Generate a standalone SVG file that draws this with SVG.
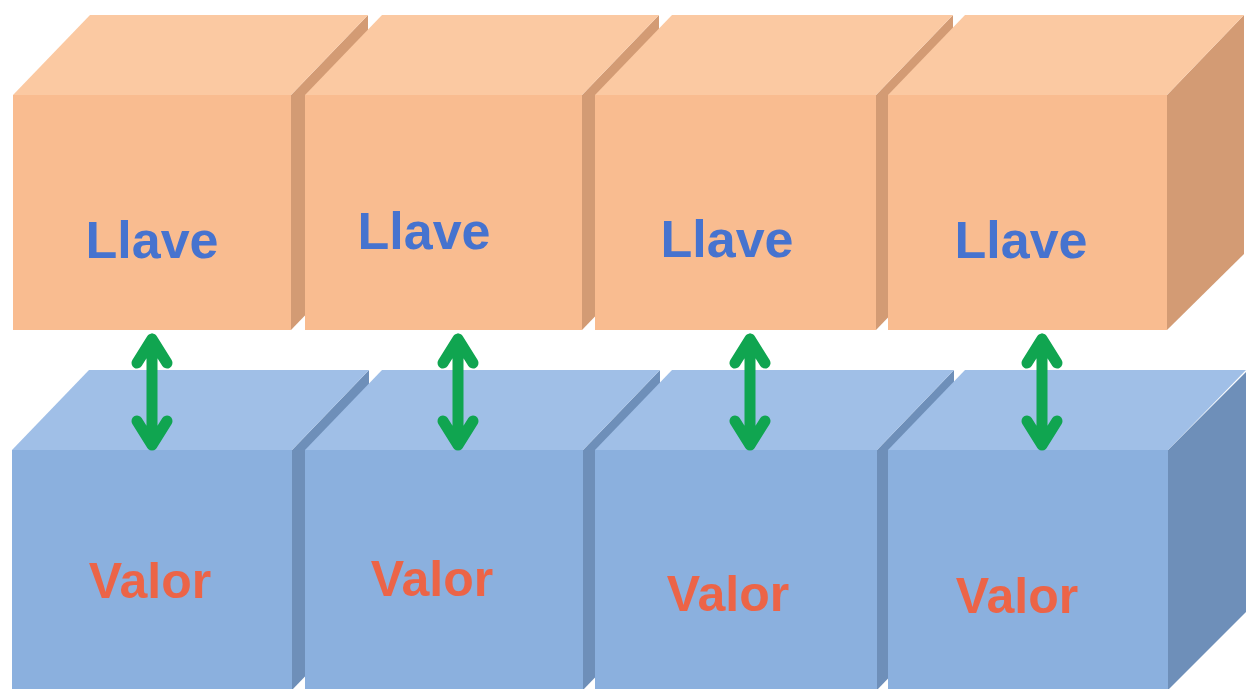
<svg xmlns="http://www.w3.org/2000/svg" width="1246" height="689" viewBox="0 0 1246 689">
<style>
.kt{fill:#fbc9a2}.kf{fill:#f9bc90}.ks{fill:#d39b74}
.vt{fill:#a0bfe7}.vf{fill:#8bb0de}.vs{fill:#6e8fb9}
.lk{font-family:"Liberation Sans",Arial,sans-serif;font-weight:bold;font-size:52px;fill:#4673cf;text-anchor:middle}
.lv{font-family:"Liberation Sans",Arial,sans-serif;font-weight:bold;font-size:50px;fill:#ec6447;text-anchor:middle}
.arr{fill:none;stroke:#10a550;stroke-width:11;stroke-linecap:round;stroke-linejoin:round}
</style>
<rect width="1246" height="689" fill="#ffffff"/>
<g id="llave1">
<polygon class="ks" points="291,95 368,15 368,250 291,330"/>
<polygon class="kt" points="13,95 90,15 368,15 291,95"/>
<rect class="kf" x="13" y="95" width="278" height="235"/>
<text class="lk" x="152" y="258">Llave</text>
</g>
<g id="llave2">
<polygon class="ks" points="582,95 659,15 659,250 582,330"/>
<polygon class="kt" points="305,95 382,15 659,15 582,95"/>
<rect class="kf" x="305" y="95" width="277" height="235"/>
<text class="lk" x="424" y="249">Llave</text>
</g>
<g id="llave3">
<polygon class="ks" points="876,95 953,15 953,250 876,330"/>
<polygon class="kt" points="595,95 672,15 953,15 876,95"/>
<rect class="kf" x="595" y="95" width="281" height="235"/>
<text class="lk" x="727" y="257">Llave</text>
</g>
<g id="llave4">
<polygon class="ks" points="1167,95 1244,15 1244,254 1167,330"/>
<polygon class="kt" points="888,95 965,15 1244,15 1167,95"/>
<rect class="kf" x="888" y="95" width="279" height="235"/>
<text class="lk" x="1021" y="258">Llave</text>
</g>
<g id="valor1">
<polygon class="vs" points="292,450 369,370 369,610 292,690"/>
<polygon class="vt" points="12,450 89,370 369,370 292,450"/>
<rect class="vf" x="12" y="450" width="280" height="240"/>
<text class="lv" x="150" y="598">Valor</text>
</g>
<g id="valor2">
<polygon class="vs" points="583,450 660,370 660,610 583,690"/>
<polygon class="vt" points="305,450 382,370 660,370 583,450"/>
<rect class="vf" x="305" y="450" width="278" height="240"/>
<text class="lv" x="432" y="596">Valor</text>
</g>
<g id="valor3">
<polygon class="vs" points="877,450 954,370 954,610 877,690"/>
<polygon class="vt" points="595,450 672,370 954,370 877,450"/>
<rect class="vf" x="595" y="450" width="282" height="240"/>
<text class="lv" x="728" y="611">Valor</text>
</g>
<g id="valor4">
<polygon class="vs" points="1168,450 1246,372 1246,612 1168,690"/>
<polygon class="vt" points="888,450 965,370 1246,370 1168,450"/>
<rect class="vf" x="888" y="450" width="280" height="240"/>
<text class="lv" x="1017" y="613">Valor</text>
</g>
<g id="connectors">
<path class="arr" d="M152,339 V445 M137,363 L152,339 L167,363 M137,421 L152,445 L167,421"/>
<path class="arr" d="M458,339 V445 M443,363 L458,339 L473,363 M443,421 L458,445 L473,421"/>
<path class="arr" d="M750,339 V445 M735,363 L750,339 L765,363 M735,421 L750,445 L765,421"/>
<path class="arr" d="M1042,339 V445 M1027,363 L1042,339 L1057,363 M1027,421 L1042,445 L1057,421"/>
</g>
</svg>
